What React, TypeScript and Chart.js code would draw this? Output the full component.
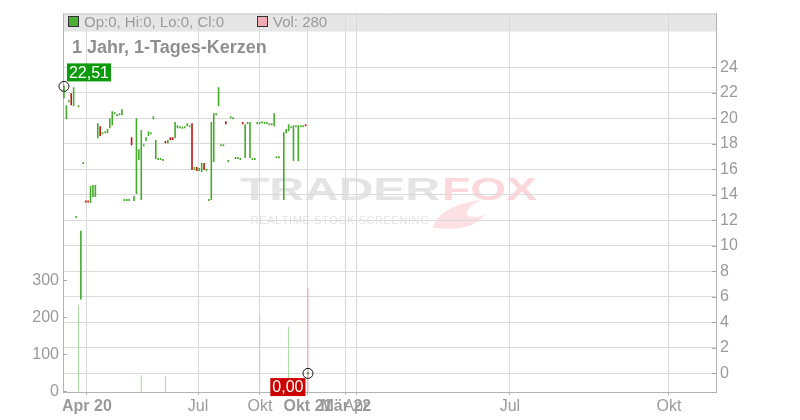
import React, { useEffect, useRef } from 'react';
import { Chart, registerables } from 'chart.js';

Chart.register(...registerables);

const FONT = '"Liberation Sans", Arial, Helvetica, sans-serif';

// Trading-day slots 0..101 (slot 90 had no trade). Candle open / close prices.
const opens: (number | null)[] = [
  21.58, 19.94, 21.42, 21.97, 20.95, 12.35, 21.03, 5.79, 16.58, 13.52,
  13.52, 13.37, 13.84, 13.84, 18.45, 19.39, 18.92, 19.0, 18.84, 19.23,
  19.47, 20.48, 20.33, 20.41, 20.25, 13.68, 13.68, 13.68, 18.53, 13.53,
  14.07, 16.73, 13.6, 17.98, 18.22, 18.61, 18.92, 19.94, 16.81, 16.89,
  16.89, 16.81, 18.22, 18.06, 18.53, 18.53, 18.45, 19.23, 19.39, 19.35,
  19.39, 19.39, 19.31, 19.62, 15.95, 16.18, 15.87, 15.79, 16.5, 16.03,
  13.68, 13.6, 16.58, 20.41, 20.95, 17.98, 17.98, 19.78, 16.73, 20.17,
  20.09, 16.97, 16.97, 16.89, 19.71, 16.89, 19.71, 16.89, 16.89, 16.89,
  19.55, 19.71, 19.78, 19.71, 19.71, 19.62, 19.62, 19.39, 17.04, 17.04,
  null, 13.6, 18.84, 19.0, 19.39, 16.65, 19.47, 16.65, 19.47, 19.47,
  19.55, 0,
];
const closes: (number | null)[] = [
  22.51, 21.03, 21.42, 21.03, 22.44, 12.35, 21.03, 11.18, 16.58, 13.4,
  13.4, 14.7, 14.78, 14.78, 19.62, 18.61, 18.92, 19.0, 19.16, 20.02,
  20.56, 20.48, 20.33, 20.41, 20.72, 13.68, 13.68, 13.68, 17.9, 13.92,
  20.02, 17.59, 19.08, 17.98, 18.53, 19.0, 18.92, 20.17, 18.3, 16.89,
  16.89, 16.81, 18.06, 18.3, 18.3, 18.3, 19.71, 19.47, 19.39, 19.35,
  19.39, 19.62, 19.47, 15.95, 16.18, 15.87, 16.11, 16.5, 15.95, 16.03,
  13.68, 19.71, 20.41, 20.41, 22.44, 17.98, 17.98, 19.55, 16.73, 20.17,
  20.09, 16.97, 16.97, 16.89, 19.55, 19.55, 19.71, 19.71, 16.89, 16.89,
  19.71, 19.71, 19.78, 19.71, 19.71, 19.62, 19.62, 20.41, 17.04, 17.04,
  null, 18.92, 19.16, 19.55, 19.39, 19.47, 19.47, 19.47, 19.47, 19.47,
  19.39, 0,
];

// Volume (only days with turnover)
const volumeDays = [6, 32, 42, 81, 93, 101];
const volumes = [234, 45, 42, 208, 176, 280];
const volumeDirs = ['up', 'up', 'up', 'flat', 'up', 'down'];

// X axis ticks (slot positions) and labels
const xTickDays = [9.5, 55.5, 81.1, 101, 116.7, 120.9, 184.6, 250.4];
const xTickLabels = ['Apr 20', 'Jul', 'Okt', 'Okt 21', 'Mär 22', 'Apr', 'Jul', 'Okt'];
const xTickBold = [true, false, false, true, true, false, false, false];

const priceTicks = [0, 2, 4, 6, 8, 10, 12, 14, 16, 18, 20, 22, 24];
const volumeTicks = [0, 100, 200, 300];

const markerDays = [0, 101];
const markerBoxColors = ['#0a9a0a', '#cc0000'];

const GREEN = '#45ab2a';
const RED = '#c21313';
const VOL_UP = '#a6d99c';
const VOL_DOWN = '#f0a3ad';
const VOL_FLAT = '#c8c8c8';
const GRID = '#dadada';
const AXIS = '#b3b3b3';
const LABEL = '#9a9a9a';

const fmt = (v: number) => v.toFixed(2).replace('.', ',');

const decorPlugin = {
  id: 'decor',
  beforeDraw(chart: any) {
    const { ctx, chartArea: a } = chart;
    ctx.save();
    // header band
    ctx.fillStyle = '#e6e6e6';
    ctx.fillRect(a.left, a.top, a.right - a.left, 18);

    // watermark
    const cx = (a.left + a.right) / 2;
    const cy = (a.top + a.bottom) / 2;
    ctx.font = `bold 31px ${FONT}`;
    ctx.textBaseline = 'alphabetic';
    const stretched = (text: string, x: number, w: number, y: number, color: string) => {
      const m = ctx.measureText(text).width;
      ctx.save();
      ctx.translate(x, y);
      ctx.scale(w / m, 1);
      ctx.fillStyle = color;
      ctx.fillText(text, 0, 0);
      ctx.restore();
    };
    stretched('TRADER', cx - 149.5, 200, cy - 3, '#e4e4e4');
    stretched('FOX', cx + 52.5, 95, cy - 3, '#fcd7db');
    // fox tail
    ctx.fillStyle = '#fde0e3';
    ctx.beginPath();
    ctx.moveTo(cx + 43, cy + 25);
    ctx.quadraticCurveTo(cx + 50, cy + 3, cx + 92, cy - 3);
    ctx.quadraticCurveTo(cx + 74, cy + 6, cx + 78, cy + 13);
    ctx.quadraticCurveTo(cx + 86, cy + 16, cx + 96, cy + 12);
    ctx.quadraticCurveTo(cx + 84, cy + 27, cx + 55, cy + 26);
    ctx.closePath();
    ctx.fill();
    // subtitle
    ctx.font = `11px ${FONT}`;
    ctx.fillStyle = '#e3e3e3';
    const sub = 'REALTIME STOCK SCREENING';
    const natural = ctx.measureText(sub).width;
    const spacing = (177 - natural) / (sub.length - 1);
    let x = cx - 138.8;
    for (const ch of sub) {
      ctx.fillText(ch, x, cy + 21);
      x += ctx.measureText(ch).width + spacing;
    }
    ctx.restore();
  },
  afterDraw(chart: any) {
    const { ctx, chartArea: a, scales } = chart;
    ctx.save();
    // top border
    ctx.strokeStyle = '#c6c6c6';
    ctx.lineWidth = 1;
    ctx.beginPath();
    ctx.moveTo(a.left, a.top + 0.5);
    ctx.lineTo(a.right, a.top + 0.5);
    ctx.stroke();
    // inward tick marks
    ctx.strokeStyle = '#a8a8a8';
    ctx.beginPath();
    priceTicks.forEach((t) => {
      const y = Math.round(scales.yPrice.getPixelForValue(t)) + 0.5;
      ctx.moveTo(a.right - 4, y);
      ctx.lineTo(a.right, y);
    });
    volumeTicks.forEach((t) => {
      const y = Math.round(scales.yVol.getPixelForValue(t)) - 0.5;
      ctx.moveTo(a.left, y);
      ctx.lineTo(a.left + 4, y);
    });
    ctx.stroke();

    // legend
    const last = opens.length - 1;
    ctx.font = `15px ${FONT}`;
    ctx.textBaseline = 'alphabetic';
    ctx.fillStyle = '#4caf35';
    ctx.fillRect(a.left + 5, 16, 11, 11);
    ctx.strokeStyle = '#333';
    ctx.strokeRect(a.left + 5.5, 16.5, 10, 10);
    ctx.fillStyle = LABEL;
    const o = opens[last] as number;
    const c = closes[last] as number;
    const hi = Math.max(o, c);
    const lo = Math.min(o, c);
    ctx.fillText(`Op:${o}, Hi:${hi}, Lo:${lo}, Cl:${c}`, a.left + 21, 27);
    ctx.fillStyle = '#f2aab3';
    ctx.fillRect(a.left + 194, 16, 11, 11);
    ctx.strokeStyle = '#333';
    ctx.strokeRect(a.left + 194.5, 16.5, 10, 10);
    ctx.fillStyle = LABEL;
    ctx.fillText(`Vol: ${volumes[volumes.length - 1]}`, a.left + 210, 27);

    // title
    ctx.font = `bold 18px ${FONT}`;
    ctx.fillStyle = '#8f8f8f';
    ctx.fillText('1 Jahr, 1-Tages-Kerzen', a.left + 9, 53);

    // marker value boxes
    const meta = chart.getDatasetMeta(0);
    ctx.font = `16px ${FONT}`;
    ctx.textBaseline = 'middle';
    meta.data.forEach((pt: any, i: number) => {
      const val = closes[markerDays[i]] as number;
      const txt = fmt(val);
      const w = ctx.measureText(txt).width + 4;
      const h = 18;
      let bx: number, by: number;
      if (i === 0) {
        bx = pt.x + 3;
        by = pt.y - 5 - h;
      } else {
        bx = pt.x - 2.5 - w;
        by = pt.y + 4.7;
      }
      ctx.fillStyle = markerBoxColors[i];
      ctx.fillRect(bx, by, w, h);
      ctx.fillStyle = '#fff';
      ctx.fillText(txt, bx + 2, by + h / 2 + 1);
      // center dot
      ctx.fillStyle = '#000';
      ctx.fillRect(Math.round(pt.x) - 0.5, Math.round(pt.y) - 0.5, 1, 1);
    });
    ctx.restore();
  },
};

export default function App() {
  const ref = useRef<HTMLCanvasElement>(null);
  useEffect(() => {
    const candleData: any[] = [];
    const candleColors: string[] = [];
    opens.forEach((op, i) => {
      const cl = closes[i];
      if (op == null || cl == null) return;
      candleData.push({ x: i, y: [op, cl] });
      candleColors.push(cl >= op ? GREEN : RED);
    });
    const volData = volumeDays.map((d, i) => ({ x: d, y: volumes[i] }));
    const volColors = volumeDirs.map((d) => (d === 'up' ? VOL_UP : d === 'down' ? VOL_DOWN : VOL_FLAT));
    const markerData = markerDays.map((d) => ({ x: d, y: closes[d] }));

    const chart = new Chart(ref.current as HTMLCanvasElement, {
      type: 'bar',
      data: {
        datasets: [
          {
            type: 'scatter',
            data: markerData,
            xAxisID: 'x',
            yAxisID: 'yPrice',
            pointRadius: 5,
            pointHoverRadius: 5,
            pointBorderWidth: 1,
            pointBorderColor: '#111',
            pointBackgroundColor: 'rgba(255,255,255,0)',
            clip: false,
          } as any,
          {
            type: 'bar',
            data: candleData,
            xAxisID: 'x',
            yAxisID: 'yPrice',
            backgroundColor: candleColors,
            barThickness: 1.6,
            minBarLength: 2,
            inflateAmount: 0,
            grouped: false,
            borderWidth: 0,
          } as any,
          {
            type: 'bar',
            data: volData,
            xAxisID: 'x',
            yAxisID: 'yVol',
            backgroundColor: volColors,
            barThickness: 1,
            inflateAmount: 0,
            grouped: false,
            borderWidth: 0,
          } as any,
        ],
      },
      options: {
        responsive: false,
        devicePixelRatio: 1,
        animation: false,
        events: [],
        layout: { padding: { top: 12, left: 0, right: 0, bottom: 0 } },
        plugins: { legend: { display: false }, tooltip: { enabled: false }, title: { display: false } },
        scales: {
          x: {
            type: 'linear',
            position: 'bottom',
            min: -0.4,
            max: 269.9,
            offset: false,
            bounds: 'data',
            afterBuildTicks: (s: any) => {
              s.ticks = xTickDays.map((v) => ({ value: v }));
            },
            afterFit: (s: any) => {
              s.height = 28;
            },
            grid: { color: GRID, offset: false, drawTicks: true, tickLength: 3, tickColor: AXIS },
            border: { display: true, color: AXIS },
            ticks: {
              autoSkip: false,
              maxRotation: 0,
              minRotation: 0,
              padding: 2,
              color: LABEL,
              font: (c: any) => ({ family: FONT, size: 16, weight: xTickBold[c.index] ? 'bold' : 'normal' }),
              callback: (_v: any, i: number) => xTickLabels[i],
            },
          } as any,
          yPrice: {
            type: 'linear',
            position: 'right',
            min: -1.46,
            max: 28.22,
            afterBuildTicks: (s: any) => {
              s.ticks = priceTicks.map((v) => ({ value: v }));
            },
            afterFit: (s: any) => {
              s.width = 84;
            },
            grid: { color: GRID, drawTicks: false },
            border: { display: true, color: AXIS },
            ticks: {
              padding: 4,
              color: LABEL,
              font: { family: FONT, size: 16 },
              callback: (v: any) => String(v),
            },
          } as any,
          yVol: {
            type: 'linear',
            position: 'left',
            min: 0,
            max: 1021,
            afterBuildTicks: (s: any) => {
              s.ticks = volumeTicks.map((v) => ({ value: v }));
            },
            afterFit: (s: any) => {
              s.width = 63;
            },
            grid: { drawOnChartArea: false, drawTicks: false },
            border: { display: true, color: AXIS },
            ticks: {
              padding: 4,
              color: LABEL,
              font: { family: FONT, size: 16 },
              callback: (v: any) => String(v),
            },
          } as any,
        },
      } as any,
      plugins: [decorPlugin],
    });
    return () => chart.destroy();
  }, []);
  return (
    <div style={{ position: 'absolute', left: 0, top: 0, width: 800, height: 420, background: '#fff' }}>
      <canvas ref={ref} width={800} height={420} style={{ display: 'block', width: 800, height: 420 }} />
    </div>
  );
}
